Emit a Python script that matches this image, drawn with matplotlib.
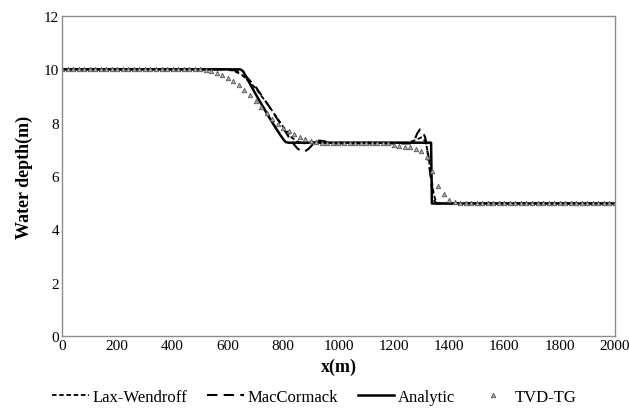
import matplotlib
matplotlib.use('Agg')
import matplotlib.pyplot as plt

plt.rcParams['font.family'] = ['Liberation Serif', 'DejaVu Serif']

# analytic dam-break solution
ana_x = [0, 645, 655, 675, 700, 725, 750, 775, 800, 808, 818, 1335, 1338, 2000]
ana_h = [10, 10, 9.93, 9.55, 9.08, 8.63, 8.19, 7.77, 7.38, 7.28, 7.25, 7.25, 4.97, 4.97]

# Lax-Wendroff
lw_x = [0, 590, 620, 650, 700, 750, 800, 830, 850, 870, 900, 930, 960, 1000,
        1250, 1280, 1300, 1315, 1325, 1335, 1345, 1355, 2000]
lw_h = [10, 10, 9.95, 9.8, 9.3, 8.6, 7.85, 7.45, 7.3, 7.22, 7.25, 7.3, 7.22, 7.25,
        7.25, 7.35, 7.45, 7.3, 6.8, 6.0, 5.3, 4.97, 4.97]

# MacCormack
mc_x = [0, 600, 630, 660, 700, 750, 800, 830, 850, 865, 878, 892, 910, 930, 950, 975, 1000,
        1260, 1275, 1285, 1295, 1305, 1315, 1325, 1335, 1345, 1355, 2000]
mc_h = [10, 10, 9.95, 9.8, 9.35, 8.6, 7.8, 7.3, 7.05, 6.93, 6.92, 7.02, 7.22, 7.33, 7.3, 7.22, 7.22,
        7.22, 7.35, 7.6, 7.75, 7.68, 7.4, 6.7, 5.8, 5.1, 4.97, 4.97]

# TVD-TG (every 20 m)
tvd_x = list(range(0, 2001, 20))
tvd_h = [10] * 26 \
        + [9.97, 9.92, 9.86, 9.78, 9.68, 9.55, 9.4, 9.23, 9.03, 8.82, 8.6,
           8.37, 8.15, 7.95, 7.8, 7.67, 7.56, 7.47, 7.39, 7.32, 7.27, 7.24] \
        + [7.22] * 12 \
        + [7.18, 7.14, 7.1, 7.08, 7.03, 6.95, 6.7, 6.2, 5.62, 5.32, 5.1, 5.03, 5.0] \
        + [4.97] * 28

fig = plt.figure(figsize=(6.29, 4.10), dpi=100)
ax = fig.add_axes([0.0986, 0.178, 0.879, 0.7805])

ax.plot(lw_x, lw_h, color='black', lw=1.3, linestyle=(0, (2.5, 1.5)), label='Lax-Wendroff')
ax.plot(mc_x, mc_h, color='black', lw=1.5, linestyle=(0, (5, 3)), label='MacCormack')
ax.plot(ana_x, ana_h, color='black', lw=1.8, label='Analytic')
ax.plot(tvd_x, tvd_h, linestyle='none', marker='^', markersize=3.2,
        markerfacecolor='#b0b0b0', markeredgecolor='#555555', markeredgewidth=0.6,
        label='TVD-TG')

ax.set_xlim(0, 2000)
ax.set_ylim(0, 12)
ax.set_xticks(range(0, 2001, 200))
ax.set_yticks(range(0, 13, 2))
ax.tick_params(length=0, labelsize=11, pad=2)
for s in ax.spines.values():
    s.set_color('#8c8c8c')
    s.set_linewidth(1.0)

ax.set_xlabel('x(m)', fontsize=13, fontweight='bold', labelpad=4)
ax.set_ylabel('Water depth(m)', fontsize=13, fontweight='bold', labelpad=8)

fig.legend(loc='center', bbox_to_anchor=(0.5, 0.03), ncol=4, frameon=False,
           fontsize=12, handlelength=2.2, handletextpad=0.2, columnspacing=1.2)

fig.savefig('out.png', dpi=100)
